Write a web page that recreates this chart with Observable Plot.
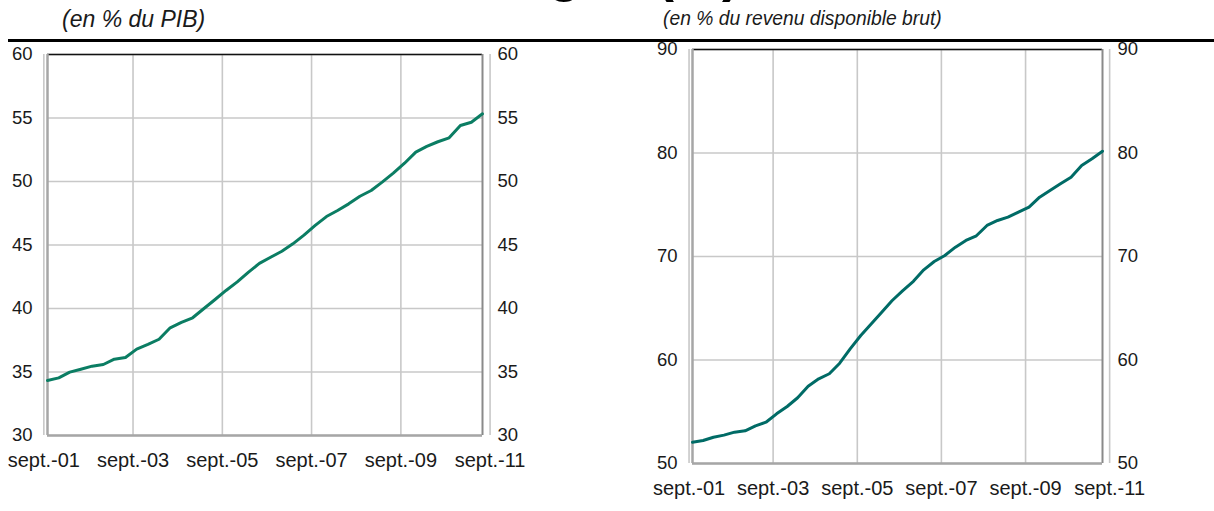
<!DOCTYPE html>
<html><head><meta charset="utf-8">
<script src="https://cdn.jsdelivr.net/npm/d3@7"></script>
<script src="https://cdn.jsdelivr.net/npm/@observablehq/plot@0.6"></script>
<style>
body{margin:0;background:#fff;font-family:"Liberation Sans",Arial,sans-serif;}
#wrap{position:relative;width:1214px;height:511px;overflow:hidden;background:#fff;}
.abs{position:absolute;white-space:nowrap;}
.xlab text{font-size:20px;}
</style></head><body><div id="wrap"></div>
<script>
// ---- texts
const title = "Endettement des ménages (%)";
const subtitleLeft = "(en % du PIB)";
const subtitleRight = "(en % du revenu disponible brut)";

// ---- categories (quarterly, sept. 2001 -> sept. 2011)
const quarters = d3.utcMonth.every(3).range(new Date(Date.UTC(2001, 8, 1)), new Date(Date.UTC(2011, 9, 1)));
const tickDates = [2001, 2003, 2005, 2007, 2009, 2011].map(y => new Date(Date.UTC(y, 8, 1)));
const tickLabels = ["sept.-01", "sept.-03", "sept.-05", "sept.-07", "sept.-09", "sept.-11"];

// ---- series values
const debtGDP = [34.33, 34.54, 34.99, 35.22, 35.46, 35.59, 36.01, 36.14, 36.80, 37.17,
  37.58, 38.48, 38.90, 39.27, 39.98, 40.69, 41.42, 42.10, 42.85, 43.55,
  44.04, 44.51, 45.09, 45.78, 46.54, 47.24, 47.72, 48.24, 48.84, 49.29,
  49.95, 50.66, 51.44, 52.31, 52.76, 53.13, 53.44, 54.41, 54.67, 55.33, 55.33];
const debtIncome = [52.06, 52.22, 52.54, 52.74, 53.03, 53.16, 53.64, 53.99, 54.80, 55.51,
  56.35, 57.47, 58.18, 58.67, 59.69, 61.08, 62.37, 63.50, 64.62, 65.75,
  66.71, 67.60, 68.71, 69.52, 70.10, 70.90, 71.55, 72.00, 73.00, 73.48,
  73.80, 74.28, 74.77, 75.73, 76.38, 77.02, 77.66, 78.79, 79.44, 80.17, 80.17];

// ---- y ticks
const yTicksLeft = [30, 35, 40, 45, 50, 55, 60];
const yTicksRight = [50, 60, 70, 80, 90];

const labelMap = new Map(tickDates.map((d, i) => [+d, tickLabels[i]]));
const xDomain = [quarters[0], quarters[quarters.length - 1]];

function chart({values, yTicks, color, width, height, ml, mr, mt, mb}) {
  const data = quarters.map((d, i) => ({date: d, value: values[i]}));
  const yDomain = [yTicks[0], yTicks[yTicks.length - 1]];
  return Plot.plot({
    width, height, marginLeft: ml, marginRight: mr, marginTop: mt, marginBottom: mb,
    style: {fontFamily: "'Liberation Sans', Arial, sans-serif", fontSize: "18.5px", color: "#1a1a1a", background: "transparent", overflow: "visible"},
    x: {type: "utc", domain: xDomain},
    y: {domain: yDomain},
    marks: [
      Plot.gridX(tickDates, {stroke: "#c8c8c8", strokeOpacity: 1, strokeWidth: 1.6}),
      Plot.gridY(yTicks, {stroke: "#c8c8c8", strokeOpacity: 1, strokeWidth: 1.6}),
      Plot.ruleY([yDomain[1]], {stroke: "#111", strokeWidth: 1.6}),
      Plot.ruleX([xDomain[1]], {stroke: "#8a8a8a", strokeWidth: 2}),
      Plot.ruleX([xDomain[0]], {stroke: "#a6a6a6", strokeWidth: 2.5}),
      Plot.ruleY([yDomain[0]], {stroke: "#a6a6a6", strokeWidth: 2.5}),
      Plot.line(data, {x: "date", y: "value", stroke: color, strokeWidth: 3}),
      Plot.axisY(yTicks, {anchor: "left", tickSize: 0, tickPadding: 15, label: null}),
      Plot.axisY(yTicks, {anchor: "right", tickSize: 0, tickPadding: 15, label: null}),
      Plot.axisX(tickDates, {anchor: "bottom", tickSize: 0, tickPadding: 17, tickFormat: d => labelMap.get(+d), label: null, className: "xlab", fontSize: 20})
    ]
  });
}

const wrap = document.getElementById("wrap");
function addText(txt, css) {
  const d = document.createElement("div");
  d.className = "abs";
  d.textContent = txt;
  Object.assign(d.style, css);
  wrap.appendChild(d);
}
addText(title, {right: "474px", top: "-55px", fontSize: "54px", lineHeight: "54px", fontWeight: "bold", color: "#000"});
addText(subtitleLeft, {left: "62px", top: "8px", fontSize: "23px", lineHeight: "23px", fontStyle: "italic", color: "#1a1a1a"});
addText(subtitleRight, {left: "663px", top: "9px", fontSize: "19.3px", lineHeight: "19.3px", fontStyle: "italic", color: "#1a1a1a"});
const sep = document.createElement("div");
Object.assign(sep.style, {position: "absolute", left: "8px", top: "39px", width: "1206px", height: "2.5px", background: "#000"});
wrap.appendChild(sep);

const left = chart({values: debtGDP, yTicks: yTicksLeft, color: "#0b7d63", width: 540, height: 436, ml: 47, mr: 58, mt: 10, mb: 45});
Object.assign(left.style, {position: "absolute", left: "0px", top: "44px"});
wrap.appendChild(left);

const right = chart({values: debtIncome, yTicks: yTicksRight, color: "#006b66", width: 594, height: 468, ml: 72, mr: 112, mt: 9, mb: 45});
Object.assign(right.style, {position: "absolute", left: "620px", top: "40px"});
wrap.appendChild(right);
</script></body></html>
